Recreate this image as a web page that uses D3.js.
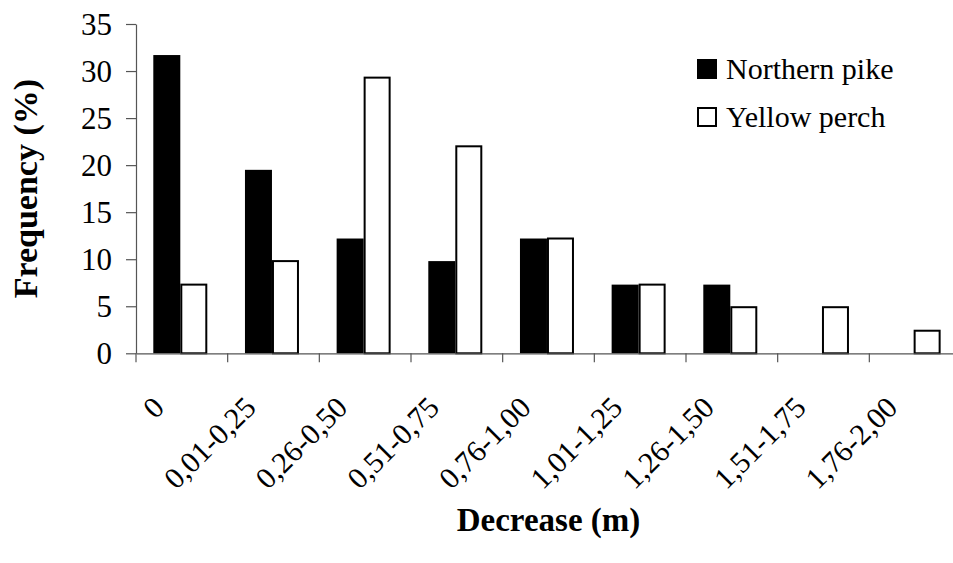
<!DOCTYPE html>
<html>
<head>
<meta charset="utf-8">
<script src="https://cdn.jsdelivr.net/npm/d3@7"></script>
<style>
  html, body { margin: 0; padding: 0; background: #fff; }
  svg { display: block; }
</style>
</head>
<body>
<svg id="chart" width="953" height="563"></svg>
<script>
const categories = ["0", "0,01-0,25", "0,26-0,50", "0,51-0,75", "0,76-1,00", "1,01-1,25", "1,26-1,50", "1,51-1,75", "1,76-2,00"];
const seriesNames = ["Northern pike", "Yellow perch"];
const northernPike = [31.7, 19.5, 12.2, 9.8, 12.2, 7.3, 7.3, 0, 0];
const yellowPerch = [7.3, 9.8, 29.3, 22.0, 12.2, 7.3, 4.9, 4.9, 2.4];
const yTicks = [0, 5, 10, 15, 20, 25, 30, 35];
const seriesValues = [northernPike, yellowPerch];
const seriesFill = ["#000", "#fff"];

const svg = d3.select("#chart");
const mLeft = 136, mRight = 961, mTop = 24, mBottom = 353.3;

const x0 = d3.scaleBand().domain(categories).range([mLeft, mRight]).padding(0);
const x1 = d3.scaleBand().domain(seriesNames).range([17.3, 71.3]).padding(0);
const y = d3.scaleLinear().domain([0, 35]).range([mBottom, mTop]);

// y axis (lines from d3 axis, labels as plain text)
const yAxis = svg.append("g").attr("transform", `translate(${mLeft},0)`)
  .call(d3.axisLeft(y).tickValues(yTicks).tickSize(10).tickFormat("").tickSizeOuter(0));
yAxis.select(".domain").attr("stroke", "#555").attr("stroke-width", 1.2);
yAxis.selectAll(".tick line").attr("stroke", "#555").attr("stroke-width", 1.2);
yAxis.selectAll(".tick text").remove();

svg.selectAll("text.ylab").data(yTicks).join("text")
  .attr("class", "ylab")
  .attr("x", mLeft - 24)
  .attr("y", d => y(d) + 11)
  .attr("text-anchor", "end")
  .attr("font-family", "'Liberation Serif'")
  .attr("font-size", 31)
  .text(d => d);

// bars
const groups = svg.append("g").selectAll("g").data(categories).join("g")
  .attr("transform", d => `translate(${x0(d)},0)`);
seriesNames.forEach((s, si) => {
  groups.filter((d, i) => seriesValues[si][i] > 0)
    .append("rect")
    .attr("x", x1(s) + (si === 1 ? 1 : 0))
    .attr("width", x1.bandwidth() - (si === 1 ? 2 : 0))
    .attr("y", d => y(seriesValues[si][categories.indexOf(d)]))
    .attr("height", d => mBottom - y(seriesValues[si][categories.indexOf(d)]))
    .attr("fill", seriesFill[si])
    .attr("stroke", si === 1 ? "#000" : "none")
    .attr("stroke-width", 2);
});

// x axis
const xAxis = svg.append("g").attr("transform", `translate(0,${mBottom})`)
  .call(d3.axisBottom(x0).tickSize(0).tickFormat(""));
xAxis.select(".domain").attr("stroke", "#555").attr("stroke-width", 1.2);
xAxis.selectAll(".tick").remove();
const bounds = categories.map(c => x0(c)).concat([mRight]);
svg.append("g").selectAll("line").data(bounds).join("line")
  .attr("x1", d => d).attr("x2", d => d)
  .attr("y1", mBottom).attr("y2", mBottom + 9)
  .attr("stroke", "#555").attr("stroke-width", 1.2);

// rotated category labels
svg.selectAll("text.xlab").data(categories).join("text")
  .attr("class", "xlab")
  .attr("transform", d => `translate(${x0(d) + x0.bandwidth() / 2 - 16},${mBottom + 56}) rotate(-45)`)
  .attr("text-anchor", "end")
  .attr("font-family", "'Liberation Serif'")
  .attr("font-size", 30)
  .text(d => d);

// axis titles
svg.append("text")
  .attr("transform", `translate(37,${(mTop + mBottom) / 2}) rotate(-90)`)
  .attr("text-anchor", "middle")
  .attr("font-family", "'Liberation Serif'")
  .attr("font-size", 34)
  .attr("font-weight", "bold")
  .text("Frequency (%)");

svg.append("text")
  .attr("x", (mLeft + mRight) / 2)
  .attr("y", 531)
  .attr("text-anchor", "middle")
  .attr("font-family", "'Liberation Serif'")
  .attr("font-size", 33)
  .attr("font-weight", "bold")
  .text("Decrease (m)");

// legend
seriesNames.forEach((s, i) => {
  const ly = 60 + i * 48;
  svg.append("rect")
    .attr("x", 698).attr("y", ly)
    .attr("width", 18).attr("height", 18)
    .attr("fill", seriesFill[i]).attr("stroke", "#000").attr("stroke-width", 2);
});
svg.selectAll("text.leg").data(seriesNames).join("text")
  .attr("class", "leg")
  .attr("x", 726).attr("y", (d, i) => 79 + i * 48)
  .attr("font-family", "'Liberation Serif'")
  .attr("font-size", 30)
  .text(d => d);
</script>
</body>
</html>
